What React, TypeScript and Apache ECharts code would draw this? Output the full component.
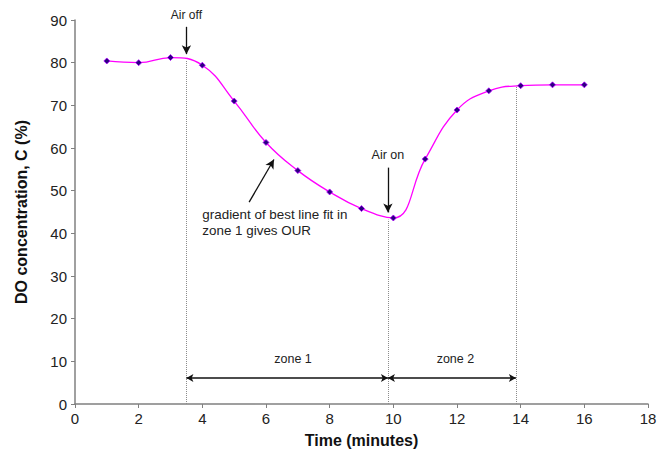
import React, { useEffect, useRef } from "react";
import * as echarts from "echarts";

const times = [1, 2, 3, 4, 5, 6, 7, 8, 9, 10, 11, 12, 13, 14, 15, 16];
const doValues = [80.4, 80.0, 81.2, 79.4, 71.0, 61.3, 54.7, 49.7, 45.8, 43.6, 57.4, 68.9, 73.4, 74.6, 74.8, 74.8];

const airOffX = 3.5;
const airOnX = 9.83;
const zone2EndX = 13.85;
const zoneArrowY = 6.1;

const FONT = "Liberation Sans, Arial, sans-serif";

export default function App() {
  const ref = useRef<HTMLDivElement>(null);
  useEffect(() => {
    if (!ref.current) return;
    const chart = echarts.init(ref.current, undefined, { renderer: "svg" });
    const guide = { color: "#8c8c8c", type: "dotted" as const, width: 1 };
    const black = { color: "#111", type: "solid" as const, width: 1.3 };
    const helper = (name: string, markLine: any, markPoint?: any) => ({
      name,
      type: "line",
      data: [],
      silent: true,
      markLine,
      markPoint,
    });
    chart.setOption({
      animation: false,
      grid: { left: 75, right: 22, top: 20, bottom: 57 },
      xAxis: {
        type: "value",
        min: 0,
        max: 18,
        interval: 2,
        name: "Time (minutes)",
        nameLocation: "middle",
        nameGap: 28,
        nameTextStyle: { fontFamily: FONT, fontSize: 16, fontWeight: "bold", color: "#111" },
        axisLine: { lineStyle: { color: "#808080", width: 1.5 } },
        axisTick: { show: true, inside: false, length: 4, lineStyle: { color: "#808080" } },
        axisLabel: { fontFamily: FONT, fontSize: 15, color: "#222", margin: 7 },
        splitLine: { show: false },
      },
      yAxis: {
        type: "value",
        min: 0,
        max: 90,
        interval: 10,
        name: "DO concentration, C (%)",
        nameLocation: "middle",
        nameGap: 46,
        nameTextStyle: { fontFamily: FONT, fontSize: 16, fontWeight: "bold", color: "#111" },
        axisLine: { show: true, lineStyle: { color: "#808080", width: 1.5 } },
        axisTick: { show: true, inside: false, length: 4, lineStyle: { color: "#808080" } },
        axisLabel: { fontFamily: FONT, fontSize: 15, color: "#222", margin: 8 },
        splitLine: { show: false },
      },
      series: [
        {
          name: "DO",
          type: "line",
          data: times.map((t, i) => [t, doValues[i]]),
          smooth: 0.45,
          symbol: "diamond",
          symbolSize: 6,
          lineStyle: { color: "#ff00ff", width: 1.3 },
          itemStyle: { color: "#2a0080", borderColor: "#b000ff", borderWidth: 0.8 },
          z: 5,
        },
        helper("guides", {
          silent: true,
          symbol: ["none", "none"],
          lineStyle: guide,
          label: { show: false },
          data: [
            [{ coord: [airOffX, 0] }, { coord: [airOffX, 80.4] }],
            [{ coord: [airOnX, 0] }, { coord: [airOnX, 43.2] }],
            [{ coord: [zone2EndX, 0] }, { coord: [zone2EndX, 74.6] }],
          ],
        }),
        helper("airOff", {
          silent: true,
          symbol: ["none", "arrow"],
          symbolSize: [7, 9],
          lineStyle: black,
          label: {
            show: true,
            position: "start",
            formatter: "Air off",
            fontFamily: FONT,
            fontSize: 12,
            color: "#222",
            distance: 6,
          },
          data: [[{ coord: [airOffX, 88.4] }, { coord: [airOffX, 82.0] }]],
        }),
        helper("airOn", {
          silent: true,
          symbol: ["none", "arrow"],
          symbolSize: [7, 9],
          lineStyle: black,
          label: {
            show: true,
            position: "start",
            formatter: "Air on",
            fontFamily: FONT,
            fontSize: 12.5,
            color: "#222",
            distance: 6,
          },
          data: [[{ coord: [airOnX, 55.4] }, { coord: [airOnX, 44.9] }]],
        }),
        helper("gradientArrow", {
          silent: true,
          symbol: ["none", "arrow"],
          symbolSize: [7, 9],
          lineStyle: black,
          label: { show: false },
          data: [[{ coord: [5.47, 47.3] }, { coord: [6.25, 57.3] }]],
        }, {
          silent: true,
          symbol: "circle",
          symbolSize: 0,
          label: {
            show: true,
            position: "right",
            distance: 0,
            formatter: "gradient of best line fit in\nzone 1 gives OUR",
            fontFamily: FONT,
            fontSize: 13.4,
            lineHeight: 16,
            color: "#222",
            align: "left",
          },
          data: [{ coord: [4.0, 42.5] }],
        }),
        helper("zones", {
          silent: true,
          symbol: ["arrow", "arrow"],
          symbolSize: [6, 7],
          lineStyle: { color: "#111", type: "solid", width: 1.5 },
          label: { show: false },
          data: [
            [{ coord: [airOffX, zoneArrowY] }, { coord: [airOnX, zoneArrowY] }],
            [{ coord: [airOnX, zoneArrowY] }, { coord: [zone2EndX, zoneArrowY] }],
          ],
        }, {
          silent: true,
          symbol: "circle",
          symbolSize: 0,
          label: {
            show: true,
            position: "inside",
            fontFamily: FONT,
            fontSize: 12.5,
            color: "#222",
            formatter: (p: any) => p.name,
          },
          data: [
            { name: "zone 1", coord: [6.85, 10.6] },
            { name: "zone 2", coord: [11.95, 10.6] },
          ],
        }),
      ],
    });
    return () => chart.dispose();
  }, []);
  return <div ref={ref} style={{ width: 670, height: 461, position: "absolute", left: 0, top: 0 }} />;
}
